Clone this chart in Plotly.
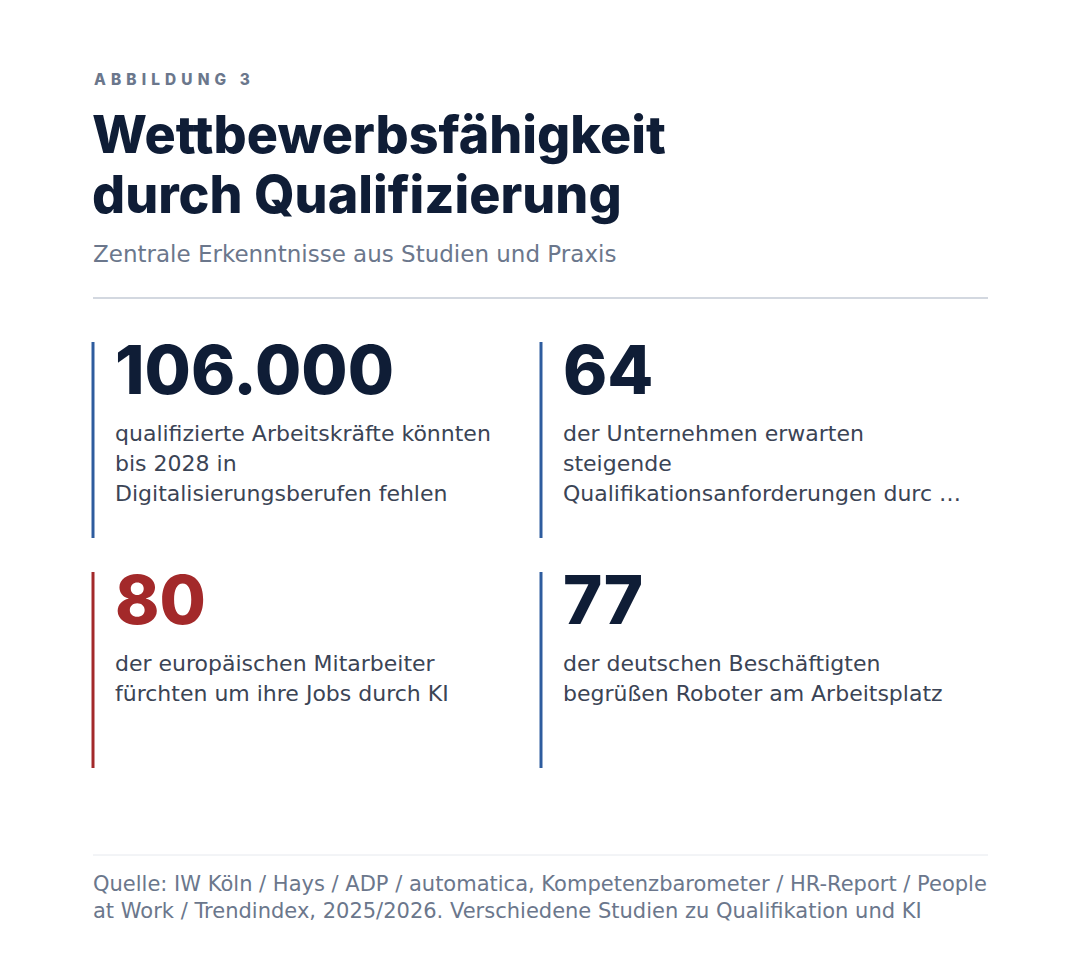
import plotly.graph_objects as go

# content
label = "ABBILDUNG 3"
title_lines = ["Wettbewerbsfähigkeit", "durch Qualifizierung"]
subtitle = "Zentrale Erkenntnisse aus Studien und Praxis"

kpi_values = ["106.000", "64", "80", "77"]
kpi_texts = [
    ["qualifizierte Arbeitskräfte könnten", "bis 2028 in", "Digitalisierungsberufen fehlen"],
    ["der Unternehmen erwarten", "steigende", "Qualifikationsanforderungen durc …"],
    ["der europäischen Mitarbeiter", "fürchten um ihre Jobs durch KI"],
    ["der deutschen Beschäftigten", "begrüßen Roboter am Arbeitsplatz"],
]
kpi_highlight = [False, False, True, False]

source_lines = [
    "Quelle: IW Köln / Hays / ADP / automatica, Kompetenzbarometer / HR-Report / People",
    "at Work / Trendindex, 2025/2026. Verschiedene Studien zu Qualifikation und KI",
]

NAVY = "#0f1d36"
GREY = "#6b778c"
BODY = "#3b4455"
BLUE = "#2e5c9e"
RED = "#a3292a"
HEAD = "Inter, 'Open Sans', sans-serif"
FONT = "'DejaVu Sans', Inter, sans-serif"

# page is 1080x958; plotly div sits 8px inside the body margin
W, H = 1064, 942
OFF = 8

fig = go.Figure()

annos = []
shapes = []


def text(x, y, s, size, color, weight=400, family=FONT):
    annos.append(dict(x=x, y=y, text=s, showarrow=False, xanchor="left", yanchor="middle",
                      font=dict(family=family, size=size, color=color, weight=weight)))


text(92, 79, "\u2004".join(label), 15.4, GREY, 800, HEAD)
for i, ln in enumerate(title_lines):
    text(90, 134 + i * 60, ln, 52, NAVY, 800, HEAD)
text(91, 254, subtitle, 23, GREY)

shapes.append(dict(type="line", x0=93, x1=988, y0=298, y1=298,
                   line=dict(color="#c5cbd6", width=1.5)))

col_x = [93, 541]
row_y = [342, 572]
for k, val in enumerate(kpi_values):
    cx = col_x[k % 2]
    ry = row_y[k // 2]
    accent = RED if kpi_highlight[k] else BLUE
    shapes.append(dict(type="rect", x0=cx - 1.5, x1=cx + 1.5, y0=ry, y1=ry + 196,
                       fillcolor=accent, line=dict(width=0)))
    text(cx + 20, ry + 27, val, 67, RED if kpi_highlight[k] else NAVY, 800, HEAD)
    for j, ln in enumerate(kpi_texts[k]):
        text(cx + 20, ry + 91 + j * 30, ln, 22, BODY)

shapes.append(dict(type="line", x0=93, x1=988, y0=855, y1=855,
                   line=dict(color="#e6e9ee", width=1)))
for i, ln in enumerate(source_lines):
    text(91, 884 + i * 27, ln, 21, GREY)

fig.update_layout(
    width=W, height=H,
    margin=dict(l=0, r=0, t=0, b=0),
    paper_bgcolor="white", plot_bgcolor="white",
    xaxis=dict(range=[OFF, OFF + W], visible=False, fixedrange=True),
    yaxis=dict(range=[OFF + H, OFF], visible=False, fixedrange=True),
    annotations=annos,
    shapes=shapes,
    showlegend=False,
)

fig.write_html("out.html")
